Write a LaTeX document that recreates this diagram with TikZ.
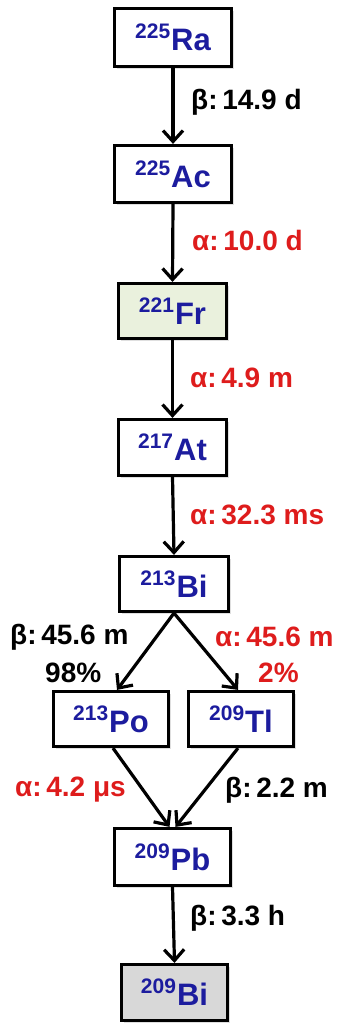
\documentclass[tikz,border=0pt]{standalone}
\usepackage{fontspec}
\setmainfont{Liberation Sans}
\usetikzlibrary{arrows.meta,shadows,calc}
\definecolor{elblue}{RGB}{28,28,158}
\definecolor{decred}{RGB}{222,28,28}
\definecolor{frgreen}{RGB}{234,241,221}
\definecolor{bigray}{RGB}{216,216,216}
\newcommand{\nuc}[2]{{\fontsize{21}{21}\selectfont\raisebox{12pt}{#1}}\kern1pt{\fontsize{31}{31}\selectfont #2}}
\begin{document}
\begin{tikzpicture}[x=1pt,y=-1pt,
  box/.style={draw=black,line width=3.2pt,fill=white,inner sep=0pt,
    font=\bfseries,text=elblue,
    drop shadow={opacity=0.25,shadow xshift=2.5pt,shadow yshift=-2.5pt}},
  lab/.style={font=\bfseries\fontsize{28}{28}\selectfont,inner sep=0pt,anchor=west},
  blk/.style={lab,text=black},
  rd/.style={lab,text=decred},
  arr/.style={line width=3.2pt,-{Straight Barb[length=11pt,width=20pt,line width=3.2pt]}}
]
\useasboundingbox (0,0) rectangle (343,1025);
\node[box,minimum width=117pt,minimum height=58pt] (ra) at (173,37.5) {\nuc{225}{Ra}};
\node[box,minimum width=117pt,minimum height=57pt] (ac) at (173,174) {\nuc{225}{Ac}};
\node[box,fill=frgreen,minimum width=108pt,minimum height=55pt] (fr) at (172.5,311) {\nuc{221}{Fr}};
\node[box,minimum width=108pt,minimum height=56pt] (at) at (172.5,447.5) {\nuc{217}{At}};
\node[box,minimum width=109pt,minimum height=55pt] (bi) at (174,584) {\nuc{213}{Bi}};
\node[box,minimum width=115pt,minimum height=55pt] (po) at (111,719) {\nuc{213}{Po}};
\node[box,minimum width=105pt,minimum height=55pt] (tl) at (241,719) {\nuc{209}{Tl}};
\node[box,minimum width=116pt,minimum height=57pt] (pb) at (172.5,857) {\nuc{209}{Pb}};
\node[box,fill=bigray,minimum width=106pt,minimum height=56pt] (bif) at (174.5,992.5) {\nuc{209}{Bi}};

\draw[arr] (ra.south) -- (ac.north);
\draw[arr] (ac.south) -- (fr.north);
\draw[arr] (fr.south) -- (at.north);
\draw[arr] (at.south) -- (bi.north);
\draw[arr] (bi.south) -- ($(po.north)+(6,0)$);
\draw[arr] (bi.south) -- ($(tl.north)+(-3,0)$);
\draw[arr] ($(po.south)+(2,0)$) -- ($(pb.north)+(-3,0)$);
\draw[arr] ($(tl.south)+(-3,0)$) -- ($(pb.north)+(3,0)$);
\draw[arr] (pb.south) -- (bif.north);

\node[blk] (l1) at (191,102) {β:\,14.9 d};
\node[rd] (l2) at (192,240) {α:\,10.0 d};
\node[rd] (l3) at (190,378) {α:\,4.9 m};
\node[rd] (l4) at (190,515) {α:\,32.3 ms};
\node[blk] (l5) at (10,637) {β:\,45.6 m};
\node[blk] (l6) at (45,673) {98\%};
\node[rd] (l7) at (215,637) {α:\,45.6 m};
\node[rd] (l8) at (258,673) {2\%};
\node[rd] (l9) at (15,790) {α:\,4.2 μs};
\node[blk] (l10) at (225,790) {β:\,2.2 m};
\node[blk] (l11) at (190,918) {β:\,3.3 h};
\end{tikzpicture}
\end{document}
